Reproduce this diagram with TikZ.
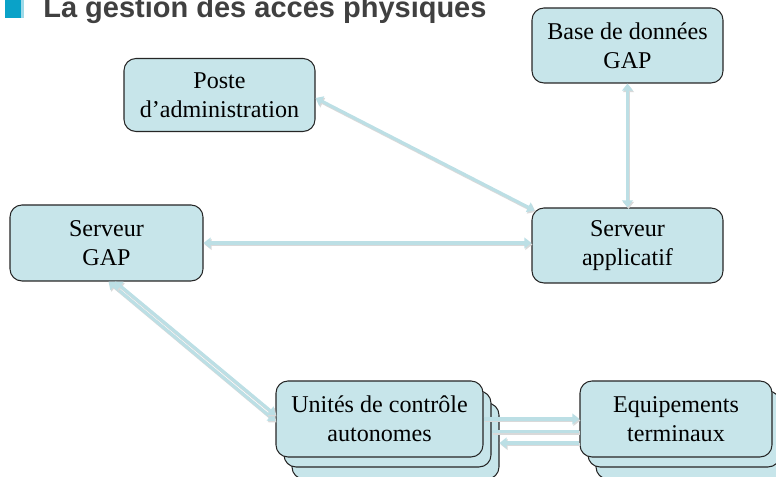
\documentclass[tikz,border=0pt]{standalone}
\usepackage{fontspec}
\setmainfont{Liberation Serif}
\newfontfamily\titlefont{Liberation Sans}
\usetikzlibrary{arrows.meta,calc}
\definecolor{boxfill}{HTML}{C7E5EA}
\definecolor{linkcol}{HTML}{BCDFE5}
\definecolor{bulletcol}{HTML}{0AA2C8}
\definecolor{titlecol}{HTML}{404040}
\tikzset{
	unit/.style={draw=black!85, line width=0.6pt, fill=boxfill, rounded corners=0.24cm,
		inner sep=0pt, align=center, font=\fontsize{13.7}{16.5}\selectfont},
	link/.style={draw=linkcol, line width=1.8pt,
		preaction={draw=black!15, line width=1.8pt, transform canvas={shift={(0.02,-0.03)}}}},
	tip/.style={-{Triangle[length=4pt,width=6pt]}},
	tips/.style={{Triangle[length=4pt,width=6pt]}-{Triangle[length=4pt,width=6pt]}}
}

\begin{document}
\begin{tikzpicture}
			%%%%% START %%%%%
			\useasboundingbox (0, 0) rectangle (15.52, 9.54);
			
			% title
			\fill[bulletcol] (0.1, 9.18) rectangle (0.48, 9.6);
			\fill[bulletcol!40] (0.43, 9.18) rectangle (0.48, 9.6);
			\node[anchor=base west, inner sep=0pt, text=titlecol, font=\titlefont\bfseries\fontsize{16.5}{18}\selectfont] (title) at (0.86, 9.18) {La gestion des accès physiques};
			
			% stacked boxes first
			\node[unit, minimum width=4.14cm, minimum height=1.52cm] (uca3) at (7.91, 0.72) {};
			\node[unit, minimum width=4.14cm, minimum height=1.52cm] (uca2) at (7.75, 0.96) {};
			\node[unit, minimum width=4.14cm, minimum height=1.52cm] (uca) at (7.59, 1.16) {Unités de contrôle\\autonomes};
			
			\node[unit, minimum width=3.84cm, minimum height=1.52cm] (equip3) at (13.84, 0.72) {};
			\node[unit, minimum width=3.84cm, minimum height=1.52cm] (equip2) at (13.68, 0.96) {};
			\node[unit, minimum width=3.84cm, minimum height=1.52cm] (equip) at (13.52, 1.16) {Equipements\\terminaux};
			
			\node[unit, minimum width=3.82cm, minimum height=1.46cm] (poste) at (4.39, 7.64) {Poste\\d’administration};
			\node[unit, minimum width=3.82cm, minimum height=1.5cm] (base) at (12.55, 8.63) {Base de données\\GAP};
			\node[unit, minimum width=3.86cm, minimum height=1.52cm] (sgap) at (2.13, 4.68) {Serveur\\GAP};
			\node[unit, minimum width=3.82cm, minimum height=1.5cm] (sapp) at (12.55, 4.63) {Serveur\\applicatif};
			
			% links
			\draw[link, tips] ([yshift=-0.06cm]poste.east) -- ([shift={(0.06,-0.06)}]sapp.north west);
			\draw[link, tips] (base.south) -- (sapp.north);
			\draw[link, tips] (sgap.east) -- (sgap.east -| sapp.west);
			\draw[link, tips] ([xshift=0.04cm]sgap.south) -- ([yshift=-0.04cm]uca.west);
			\draw[link, tips] ([xshift=0.17cm]sgap.south) -- ([yshift=0.08cm]uca.west);
			
			\coordinate (mid) at ([yshift=-0.25cm]equip.west);
			\coordinate (low) at ([yshift=-0.48cm]equip.west);
			\draw[link, tip] (uca.east) -- (equip.west);
			\draw[link] (mid -| uca2.east) -- (mid);
			\draw[link, tip] (low) -- (low -| uca3.east);
			
			%%%%% END %%%%%
\end{tikzpicture}
\end{document}
